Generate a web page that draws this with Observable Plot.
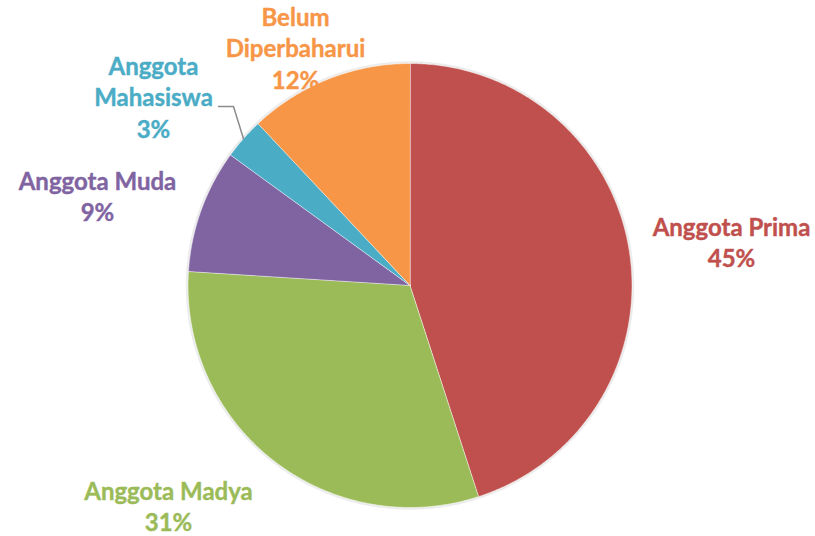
<!DOCTYPE html>
<html>
<head>
<meta charset="utf-8">
<script src="https://cdn.jsdelivr.net/npm/d3@7"></script>
<script src="https://cdn.jsdelivr.net/npm/@observablehq/plot@0.6"></script>
<style>
  html, body { margin: 0; padding: 0; background: #ffffff; }
  #chart { width: 815px; height: 536px; }
</style>
</head>
<body>
<div id="chart"></div>
<script>
// ---- data ----
const categories = ["Anggota Prima", "Anggota Madya", "Anggota Muda", "Anggota Mahasiswa", "Belum Diperbaharui"];
const labels = ["Anggota Prima", "Anggota Madya", "Anggota Muda", "Anggota\nMahasiswa", "Belum\nDiperbaharui"];
const values = [45, 31, 9, 3, 12];
const colors = ["#C0504D", "#9BBB59", "#8064A2", "#4BACC6", "#F79646"];

// ---- layout (pixels) ----
const W = 815, H = 536;
const CX = 409.5, CY = 285, R = 222;
const labelPos = [[731, 241], [168, 505], [97, 195], [153, 96], [295, 47]];
const leaderPx = [[218, 106], [233, 106]];

const toX = px => (px - CX) / R;
const toY = py => (CY - py) / R;

const total = d3.sum(values);
const pieGen = d3.pie().sort(null).value(d => d.value);
const rows = categories.map((c, i) => ({name: c, label: labels[i], value: values[i], color: colors[i]}));
const arcs = pieGen(rows);

// slice polygons from the pie angles
const slicePts = [];
arcs.forEach(a => {
  slicePts.push({name: a.data.name, color: a.data.color, x: 0, y: 0});
  const n = Math.max(2, Math.ceil((a.endAngle - a.startAngle) / 0.01));
  for (let k = 0; k <= n; k++) {
    const t = a.startAngle + (a.endAngle - a.startAngle) * k / n;
    slicePts.push({name: a.data.name, color: a.data.color, x: Math.sin(t), y: Math.cos(t)});
  }
});

const labelRows = arcs.map((a, i) => ({
  text: a.data.label + "\n" + Math.round(a.data.value / total * 100) + "%",
  color: a.data.color,
  x: toX(labelPos[i][0]),
  y: toY(labelPos[i][1])
}));

// leader line for the small slice (Mahasiswa): ends at the slice mid-angle on the rim
const mah = arcs[3];
const mid = (mah.startAngle + mah.endAngle) / 2;
const leader = [
  {x: toX(leaderPx[0][0]), y: toY(leaderPx[0][1])},
  {x: toX(leaderPx[1][0]), y: toY(leaderPx[1][1])},
  {x: Math.sin(mid), y: Math.cos(mid)}
];

const chart = Plot.plot({
  width: W,
  height: H,
  margin: 0,
  x: {domain: [toX(0), toX(W)], range: [0, W], axis: null},
  y: {domain: [toY(H), toY(0)], range: [H, 0], axis: null},
  style: {background: "#ffffff"},
  marks: [
    Plot.dot([{x: 0, y: 0}], {x: "x", y: "y", r: R + 1, fill: "none", stroke: "#ececec", strokeWidth: 2.5}),
    Plot.line(slicePts, {x: "x", y: "y", z: "name", fill: "color", stroke: "#ffffff", strokeWidth: 0.8, strokeOpacity: 0.6, curve: "linear-closed"}),
    Plot.line(leader, {x: "x", y: "y", stroke: "#8c8c8c", strokeWidth: 1.5}),
    Plot.text(labelRows, {
      x: "x", y: "y", text: "text", fill: "color",
      fontFamily: "Lato, 'Open Sans', sans-serif", fontWeight: "bold", fontSize: 24,
      lineHeight: 1.3, textAnchor: "middle", stroke: "color", strokeWidth: 0.4
    })
  ]
});
document.getElementById("chart").appendChild(chart);
</script>
</body>
</html>
